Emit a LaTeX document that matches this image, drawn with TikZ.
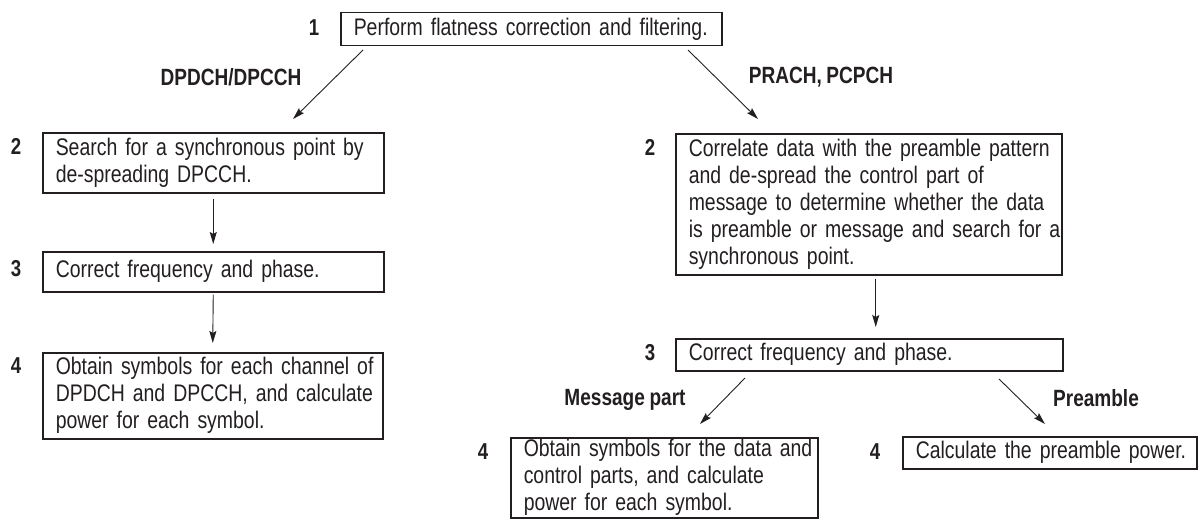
\documentclass[tikz,border=0pt]{standalone}
\usepackage{fontspec}
\setmainfont{Liberation Sans}[FakeStretch=0.81,WordSpace=0.88]
\usetikzlibrary{arrows.meta,calc}
\definecolor{ink}{RGB}{35,31,32}
\begin{document}
\begin{tikzpicture}[x=1pt,y=-1pt,
  box/.style={draw=ink, line width=1.5pt, text=ink, align=left, anchor=north west,
    inner xsep=13pt, inner ysep=0pt,
    font=\fontsize{24}{27}\selectfont},
  num/.style={text=ink, font=\bfseries\fontsize{23}{23}\selectfont, inner sep=0pt},
  lab/.style={text=ink, font=\bfseries\fontsize{23.5}{24}\selectfont, inner sep=0pt},
  arr/.style={draw=ink, line width=0.9pt, -{Stealth[length=12pt,width=7pt,inset=2pt]}}]
\useasboundingbox (0,0) rectangle (1202,519);

% boxes
\node[box, text width=355pt, minimum height=33pt] (b1) at (340,12)
  {\mbox{Perform flatness correction and filtering.}};
\node[box, text width=315pt, minimum height=60pt] (l2) at (42,132)
  {\mbox{Search for a synchronous point by}\\\mbox{de-spreading DPCCH.}};
\node[box, text width=315pt, minimum height=40pt] (l3) at (42,251)
  {\mbox{Correct frequency and phase.}};
\node[box, text width=314pt, minimum height=86pt] (l4) at (42,352)
  {\mbox{Obtain symbols for each channel of}\\\mbox{DPDCH and DPCCH, and calculate}\\\mbox{power for each symbol.}};
\node[box, text width=360pt, minimum height=141pt] (r2) at (675,133)
  {\mbox{Correlate data with the preamble pattern}\\\mbox{and de-spread the control part of}\\\mbox{message to determine whether the data}\\\mbox{is preamble or message and search for a}\\\mbox{synchronous point.}};
\node[box, text width=361pt, minimum height=32pt] (r3) at (675,338)
  {\mbox{Correct frequency and phase.}};
\node[box, text width=281pt, minimum height=80pt] (r4a) at (510,437)
  {\mbox{Obtain symbols for the data and}\\\mbox{control parts, and calculate}\\\mbox{power for each symbol.}};
\node[box, text width=268pt, minimum height=32pt] (r4b) at (902,436)
  {\mbox{Calculate the preamble power.}};

% step numbers
\node[num] (n1)  at ($(b1.north west)+(-26,16)$) {1};
\node[num] (nl2) at ($(l2.north west)+(-26,14)$) {2};
\node[num] (nl3) at ($(l3.north west)+(-26,18)$) {3};
\node[num] (nl4) at ($(l4.north west)+(-26,14)$) {4};
\node[num] (nr2) at ($(r2.north west)+(-25,14)$) {2};
\node[num] (nr3) at ($(r3.north west)+(-25,15)$) {3};
\node[num] (nr4a) at ($(r4a.north west)+(-27,15)$) {4};
\node[num] (nr4b) at ($(r4b.north west)+(-27,16)$) {4};

% branch labels
\node[lab] (tdp) at (231,77) {DPDCH/DPCCH};
\node[lab] (tpr) at (821,77) {PRACH, PCPCH};
\node[lab] (tmsg) at (625,400) {Message part};
\node[lab] (tpre) at (1096,398) {Preamble};

% free arrow ends
\coordinate (a1s) at (363,50);  \coordinate (a1e) at (293,119);
\coordinate (a2s) at (688,50);  \coordinate (a2e) at (758,119);
\coordinate (a3s) at (745,378); \coordinate (a3e) at (700,424);
\coordinate (a4s) at (999,379); \coordinate (a4e) at (1045,424);

\draw[arr] (a1s) -- (a1e);
\draw[arr] (a2s) -- (a2e);
\draw[arr] ([yshift=-5pt]l2.south) -- ([yshift=7pt]l3.north);
\draw[arr] ([yshift=-2pt]l3.south) -- ([yshift=9pt]l4.north);
\draw[arr] ([xshift=7pt,yshift=-3pt]r2.south) -- ([xshift=6.5pt,yshift=11pt]r3.north);
\draw[arr] (a3s) -- (a3e);
\draw[arr] (a4s) -- (a4e);
\end{tikzpicture}
\end{document}
